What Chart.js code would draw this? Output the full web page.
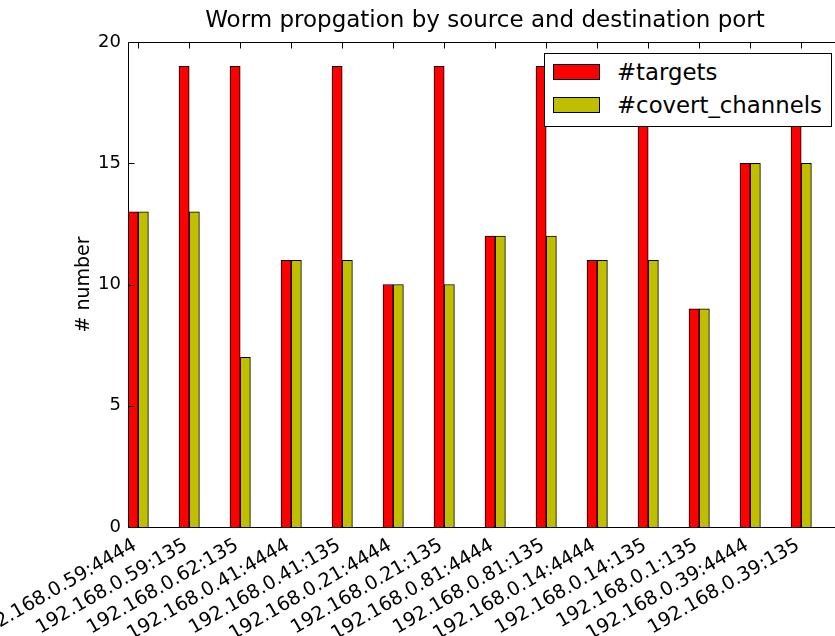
<!DOCTYPE html>
<html><head><meta charset="utf-8">
<script src="https://cdn.jsdelivr.net/npm/chart.js@4.4.0/dist/chart.umd.min.js"></script>
<style>
html,body{margin:0;padding:0;background:#fff;width:835px;height:636px;overflow:hidden;position:relative;font-family:"DejaVu Sans",sans-serif;}
#c{position:absolute;left:-40px;top:0;}
#legend{position:absolute;left:544px;top:53px;width:288px;height:74px;box-sizing:border-box;border:1px solid #000;background:#fff;}
.item{position:absolute;left:8px;height:33px;display:flex;align-items:center;white-space:nowrap;}
.patch{width:47px;height:16px;box-sizing:border-box;border:1px solid #000;margin-right:17px;flex:none;}
.lab{font-size:22.8px;color:#000;line-height:23px;font-family:"DejaVu Sans",sans-serif;}
</style></head><body>
<canvas id="c" width="900" height="636"></canvas>
<div id="legend"></div>
<script>
const categories = ['192.168.0.59:4444','192.168.0.59:135','192.168.0.62:135','192.168.0.41:4444','192.168.0.41:135','192.168.0.21:4444','192.168.0.21:135','192.168.0.81:4444','192.168.0.81:135','192.168.0.14:4444','192.168.0.14:135','192.168.0.1:135','192.168.0.39:4444','192.168.0.39:135'];
const targets = [13,19,19,11,19,10,19,12,19,11,19,9,15,19];
const covertChannels = [13,13,7,11,11,10,10,12,12,11,11,9,15,15];
const yTicks = [0,5,10,15,20];
const seriesNames = ['#targets','#covert_channels'];
const seriesColors = ['#ff0000','#bfbf00'];
const titleText = 'Worm propgation by source and destination port';
const yTitle = '# number';

Chart.defaults.font.family = 'DejaVu Sans';

const spacer = () => ({label:'', data: categories.map(() => null), backgroundColor:'rgba(0,0,0,0)', borderWidth:0});

const framePlugin = {
  id:'frame',
  afterDatasetsDraw(chart){
    const {ctx, chartArea:a, scales:{x, y}} = chart;
    ctx.save();
    ctx.strokeStyle = '#000';
    ctx.lineWidth = 1;
    const L = Math.round(a.left)+0.5, R = Math.round(a.right)-0.5, T = Math.round(a.top)+0.5, B = Math.round(a.bottom)+0.5;
    ctx.beginPath();
    ctx.moveTo(L,T); ctx.lineTo(R,T); ctx.lineTo(R,B); ctx.lineTo(L,B); ctx.closePath();
    ctx.stroke();
    const tl = 6;
    const step = x.getPixelForValue(1) - x.getPixelForValue(0);
    ctx.beginPath();
    categories.forEach((c,i) => {
      const px = Math.round(x.getPixelForValue(i) - 0.3*step) + 0.5;
      ctx.moveTo(px, T); ctx.lineTo(px, T+tl);
      ctx.moveTo(px, B); ctx.lineTo(px, B-tl);
    });
    yTicks.forEach(v => {
      const py = Math.round(y.getPixelForValue(v)) + 0.5;
      ctx.moveTo(L, py); ctx.lineTo(L+tl, py);
      ctx.moveTo(R, py); ctx.lineTo(R-tl, py);
    });
    ctx.stroke();
    ctx.restore();
  }
};

const chart = new Chart(document.getElementById('c').getContext('2d'), {
  type:'bar',
  data:{
    labels: categories,
    datasets:[
      {label:seriesNames[0], data:targets, backgroundColor:seriesColors[0], borderColor:'#000', borderWidth:1},
      {label:seriesNames[1], data:covertChannels, backgroundColor:seriesColors[1], borderColor:'#000', borderWidth:1},
      spacer(), spacer(), spacer()
    ]
  },
  options:{
    responsive:false,
    animation:false,
    layout:{padding:{left:0,right:18,top:0,bottom:0}},
    datasets:{bar:{categoryPercentage:1, barPercentage:1, borderSkipped:'start'}},
    plugins:{
      legend:{display:false},
      tooltip:{enabled:false},
      title:{display:true, text:titleText, fullSize:false, color:'#000',
        font:{family:'DejaVu Sans', size:23, weight:'normal', lineHeight:1.2},
        padding:{top:7.6, bottom:6.8}}
    },
    scales:{
      x:{
        type:'category', offset:true,
        grid:{display:false, drawTicks:false},
        border:{display:false},
        ticks:{autoSkip:false, minRotation:30, maxRotation:30, color:'#000',
          font:{family:'DejaVu Sans', size:19.2}, padding:7, labelOffset:-18.5},
        afterFit(s){ s.height = 109; }
      },
      y:{
        min:0, max:20,
        grid:{display:false, drawTicks:false},
        border:{display:false},
        afterBuildTicks(s){ s.ticks = yTicks.map(v => ({value:v})); },
        ticks:{color:'#000', font:{family:'DejaVu Sans', size:18}, padding:7},
        title:{display:true, text:yTitle, color:'#000', font:{family:'DejaVu Sans', size:19}, padding:{top:112.6, bottom:0}},
        afterFit(s){ s.width = 168; }
      }
    }
  },
  plugins:[framePlugin]
});

const legend = document.getElementById('legend');
seriesNames.forEach((name, i) => {
  const item = document.createElement('div');
  item.className = 'item';
  item.style.top = (1.5 + i*33) + 'px';
  const patch = document.createElement('div');
  patch.className = 'patch';
  patch.style.background = seriesColors[i];
  const lab = document.createElement('span');
  lab.className = 'lab';
  lab.textContent = name;
  item.appendChild(patch); item.appendChild(lab);
  legend.appendChild(item);
});
</script>
</body></html>
